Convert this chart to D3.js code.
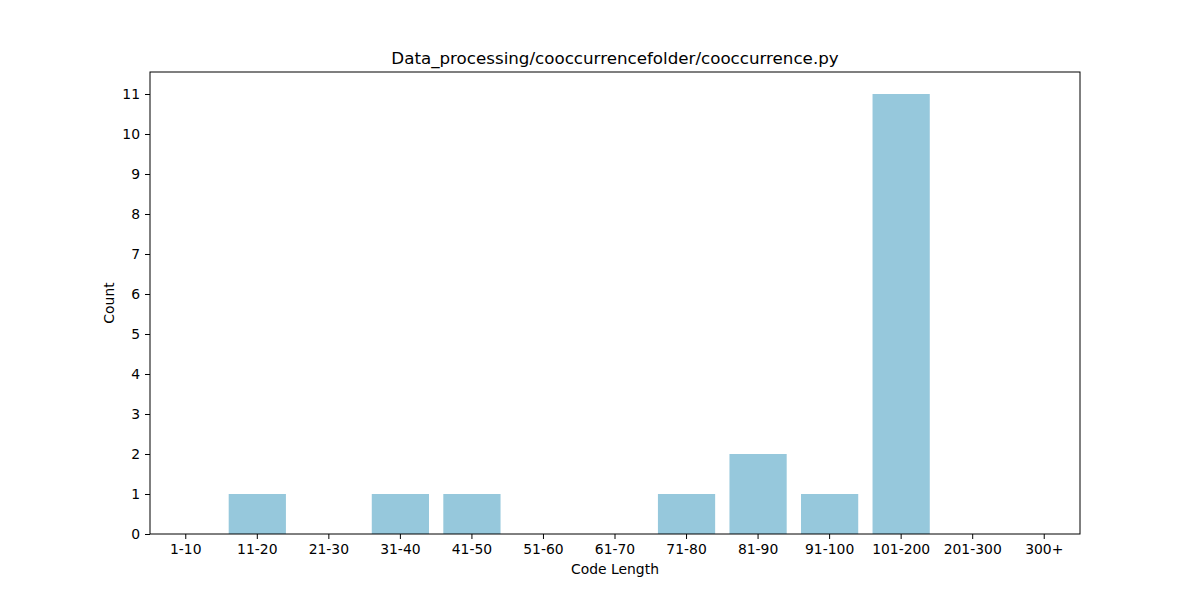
<!DOCTYPE html>
<html>
<head>
<meta charset="utf-8">
<script src="https://cdn.jsdelivr.net/npm/d3@7"></script>
<style>
  body { margin: 0; background: #fff; }
  text { font-family: "DejaVu Sans", sans-serif; fill: #000; }
</style>
</head>
<body>
<div id="viz"></div>
<script>
// data
const categories = ['1-10', '11-20', '21-30', '31-40', '41-50', '51-60', '61-70',
                    '71-80', '81-90', '91-100', '101-200', '201-300', '300+'];
const counts = [0, 1, 0, 1, 1, 0, 0, 1, 2, 1, 11, 0, 0];
const yTicks = d3.range(0, 12);

let margin = {top: 72, right: 120, bottom: 66, left: 150},
    width = 1200 - margin.left - margin.right,
    height = 600 - margin.top - margin.bottom;

let svg = d3.select('#viz')
  .append('svg')
  .attr('width', 1200)
  .attr('height', 600);

let g = svg.append('g')
  .attr('transform', `translate(${margin.left}, ${margin.top})`);

let x = d3.scaleBand()
  .domain(categories)
  .range([0, width])
  .paddingInner(0.2)
  .paddingOuter(0.1);

// matplotlib style 5% headroom
let y = d3.scaleLinear()
  .domain([0, d3.max(counts) * 1.05])
  .range([height, 0]);

// bars
g.selectAll('.bar')
  .data(counts)
  .join('rect')
  .attr('class', 'bar')
  .attr('x', (d, i) => x(categories[i]))
  .attr('y', d => y(d))
  .attr('width', x.bandwidth())
  .attr('height', d => y(0) - y(d))
  .style('fill', '#96c8dc');

// axes
let yAxis = g.append('g')
  .call(d3.axisLeft(y).tickValues(yTicks).tickSize(5).tickPadding(5).tickFormat(d3.format('d')));

let xAxis = g.append('g')
  .attr('transform', `translate(0,${height})`)
  .call(d3.axisBottom(x).tickSize(5).tickPadding(5));

[xAxis, yAxis].forEach(a => {
  a.select('.domain').remove();
  a.selectAll('line').attr('stroke', '#000').attr('stroke-width', 1);
  a.selectAll('text').style('font-size', '13.9px').style('font-family', '"DejaVu Sans", sans-serif');
});

// frame
g.append('rect')
  .attr('x', 0).attr('y', 0)
  .attr('width', width).attr('height', height)
  .attr('fill', 'none')
  .attr('stroke', '#000')
  .attr('stroke-width', 1);

// labels
svg.append('text')
  .attr('x', margin.left + width / 2)
  .attr('y', 64)
  .attr('text-anchor', 'middle')
  .style('font-size', '16.7px')
  .text('Data_processing/cooccurrencefolder/cooccurrence.py');

svg.append('text')
  .attr('x', margin.left + width / 2)
  .attr('y', 574)
  .attr('text-anchor', 'middle')
  .style('font-size', '13.9px')
  .text('Code Length');

svg.append('text')
  .attr('transform', `translate(114, ${margin.top + height / 2}) rotate(-90)`)
  .attr('text-anchor', 'middle')
  .style('font-size', '13.9px')
  .text('Count');
</script>
</body>
</html>
